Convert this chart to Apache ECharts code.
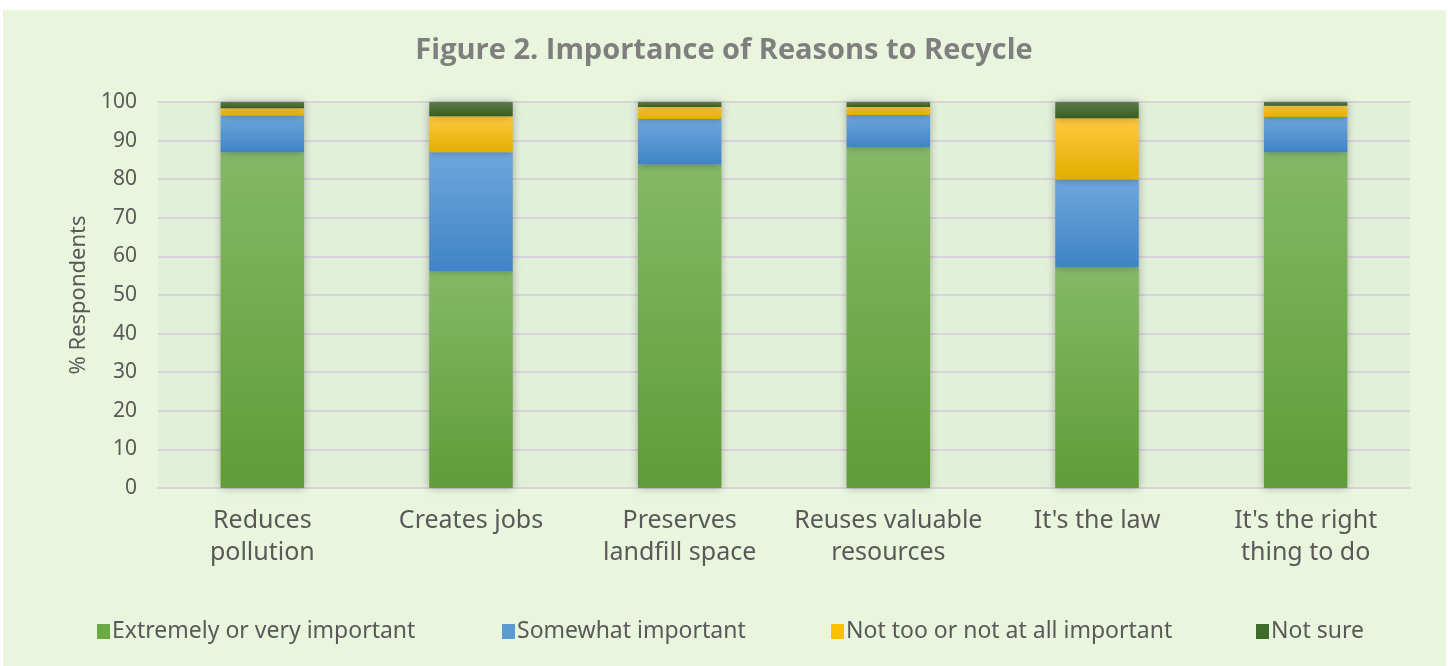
<!DOCTYPE html>
<html><head><meta charset="utf-8">
<script src="https://cdn.jsdelivr.net/npm/echarts@6/dist/echarts.min.js"></script>
<style>html,body{margin:0;padding:0;background:#fff;}#c{width:1448px;height:666px;}</style>
</head><body><div id="c"></div>
<script>
const categories = ["Reduces\npollution", "Creates jobs", "Preserves\nlandfill space", "Reuses valuable\nresources", "It's the law", "It's the right\nthing to do"];
const seriesNames = ["Extremely or very important", "Somewhat important", "Not too or not at all important", "Not sure"];
const extremely = [87.0, 56.1, 83.8, 88.3, 57.2, 87.0];
const somewhat = [9.5, 30.9, 11.8, 8.3, 22.7, 9.1];
const notToo = [1.9, 9.3, 3.1, 2.1, 15.9, 2.9];
const notSure = [1.6, 3.7, 1.3, 1.6, 4.5, 1.3];
const yTicks = [0, 10, 20, 30, 40, 50, 60, 70, 80, 90, 100];

const FONT = "'Noto Sans', sans-serif";
function grad(top, bottom){
  return new echarts.graphic.LinearGradient(0,0,0,1,[{offset:0,color:top},{offset:1,color:bottom}]);
}
const colors = [
  ['#85B866', '#5E9D37'],
  ['#6FA6DD', '#3F84C6'],
  ['#FFC940', '#E2AE00'],
  ['#5C7B4C', '#375E1E']
];
const legendColors = ['#6AAA45', '#5B9BD5', '#FFC000', '#416B2A'];
const values = [extremely, somewhat, notToo, notSure];

const chart = echarts.init(document.getElementById('c'), null, {renderer:'canvas'});
const series = seriesNames.map((n,i)=>({
  name:n, type:'bar', stack:'total', barWidth:'40%',
  data: values[i],
  itemStyle:{color:grad(colors[i][0], colors[i][1]), shadowBlur: 8, shadowColor:'rgba(0,0,0,0.3)', shadowOffsetX:0},
  emphasis:{disabled:true}
}));
const legendLefts = [92, 497, 826, 1251];
const legends = seriesNames.map((n,i)=>({
  data:[{name:n, itemStyle:{color:legendColors[i]}}],
  left: legendLefts[i], top: 615,
  icon:'rect', itemWidth:13, itemHeight:15, itemGap:0,
  textStyle:{fontFamily:FONT, fontSize:23, color:'#595959', padding:[0,0,0,-3]},
  selectedMode:false
}));
chart.setOption({
  animation:false,
  backgroundColor:'#ffffff',
  graphic:[{type:'rect', z:-10, shape:{x:3, y:10, width:1443, height:660}, style:{fill:'#EAF5DE'}}],
  title:{text:'Figure 2. Importance of Reasons to Recycle', left:'center', top:31,
    textStyle:{fontFamily:"'Open Sans', sans-serif", fontWeight:'bold', fontSize:29, color:'#7F7F7F'}},
  legend: legends,
  grid:{left:158, right:38, top:102, bottom:178, show:true, backgroundColor:'#E2EFD9', borderWidth:0},
  xAxis:{type:'category', data:categories,
    axisLine:{show:true, lineStyle:{color:'#D9D4DC', width:2}}, axisTick:{show:false},
    axisLabel:{interval:0, fontFamily:FONT, fontSize:25, color:'#595959', lineHeight:32, margin:17}},
  yAxis:{type:'value', min:yTicks[0], max:yTicks[yTicks.length-1], interval:10,
    name:'% Respondents', nameLocation:'middle', nameGap:64,
    nameTextStyle:{fontFamily:FONT, fontSize:22, color:'#595959'},
    axisLabel:{fontFamily:FONT, fontSize:21, color:'#595959', margin:21},
    axisLine:{show:false}, axisTick:{show:false},
    splitLine:{lineStyle:{color:'#D9D4DC', width:2}}},
  series: series
});
</script></body></html>
